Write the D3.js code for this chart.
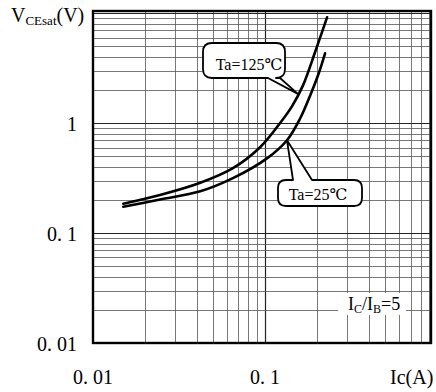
<!DOCTYPE html>
<html>
<head>
<meta charset="utf-8">
<script src="https://cdn.jsdelivr.net/npm/d3@7"></script>
<style>
  html, body { margin: 0; padding: 0; background: #fff; }
  svg { display: block; }
  text { font-family: "Liberation Serif", "DejaVu Serif", serif; fill: #000; }
</style>
</head>
<body>
<div id="chart"></div>
<script>
// Ic (A) vs VCE(sat) (V), IC/IB = 5
var ic125 = [0.015, 0.0245, 0.042, 0.065, 0.0935, 0.122, 0.1435, 0.166, 0.195, 0.229];
var vce125 = [0.185, 0.222, 0.287, 0.39, 0.605, 1.0, 1.43, 2.21, 4.42, 9.2];
var ic25 = [0.015, 0.0245, 0.042, 0.065, 0.103, 0.134, 0.16, 0.183, 0.203, 0.223];
var vce25 = [0.174, 0.202, 0.240, 0.316, 0.481, 0.70, 1.11, 1.80, 2.73, 4.33];

var xTicks = [0.01, 0.1];
var xTickLabels = ["0. 01", "0. 1"];
var yTicks = [0.01, 0.1, 1];
var yTickLabels = ["0. 01", "0. 1", "1"];

// where the callout pointers touch the curves
var tip125 = [0.155, 1.85];
var tip25 = [0.134, 0.70];

var width = 436, height = 392;
var x = d3.scaleLog().domain([0.01, 0.92]).range([93, 431]);
var y = d3.scaleLog().domain([0.01, 10.5]).range([343, 11]);

var svg = d3.select("#chart").append("svg")
    .attr("width", width)
    .attr("height", height);

// grid lines: 1..9 in each decade
var xGrid = [], yGrid = [];
[0.01, 0.1].forEach(function(d) {
    for (var k = 1; k <= 9; k++) xGrid.push(d * k);
});
[0.01, 0.1, 1].forEach(function(d) {
    for (var k = 1; k <= 9; k++) yGrid.push(d * k);
});
yGrid.push(10);

function isDecade(d) {
    return Math.abs(Math.log10(d) - Math.round(Math.log10(d))) < 1e-6;
}

var grid = svg.append("g").attr("class", "grid");
grid.selectAll("line.v")
    .data(xGrid.filter(function(d) { return d > 0.0101 && d < 0.92; }))
    .enter().append("line")
    .attr("class", "v")
    .attr("x1", function(d) { return Math.round(x(d)) + 0.5; })
    .attr("x2", function(d) { return Math.round(x(d)) + 0.5; })
    .attr("y1", y(10.5))
    .attr("y2", y(0.01))
    .attr("stroke", function(d) { return isDecade(d) ? "#222" : "#555"; })
    .attr("stroke-width", function(d) { return isDecade(d) ? 1.2 : 0.8; });

grid.selectAll("line.h")
    .data(yGrid.filter(function(d) { return d > 0.0101 && d < 10.5; }))
    .enter().append("line")
    .attr("class", "h")
    .attr("x1", x(0.01))
    .attr("x2", x(0.92))
    .attr("y1", function(d) { return Math.round(y(d)) + 0.5; })
    .attr("y2", function(d) { return Math.round(y(d)) + 0.5; })
    .attr("stroke", function(d) { return isDecade(d) ? "#222" : "#555"; })
    .attr("stroke-width", function(d) { return isDecade(d) ? 1.2 : 0.8; });

// frame
svg.append("rect")
    .attr("x", x(0.01))
    .attr("y", y(10.5))
    .attr("width", x(0.92) - x(0.01))
    .attr("height", y(0.01) - y(10.5))
    .attr("fill", "none")
    .attr("stroke", "#000")
    .attr("stroke-width", 2.4);

// curves
var line = d3.line()
    .x(function(d) { return x(d[0]); })
    .y(function(d) { return y(d[1]); })
    .curve(d3.curveCatmullRom.alpha(0.5));

var series = [
    d3.zip(ic125, vce125),
    d3.zip(ic25, vce25)
];
svg.selectAll("path.curve")
    .data(series)
    .enter().append("path")
    .attr("class", "curve")
    .attr("d", line)
    .attr("fill", "none")
    .attr("stroke", "#000")
    .attr("stroke-width", 2.6)
    .attr("stroke-linecap", "round");

// speech bubble helper; wedge on bottom or top edge
function bubble(x0, y0, x1, y1, r, side, a, b, tip) {
    var p = "M" + (x0 + r) + "," + y0;
    if (side === "top") p += "H" + a + "L" + tip[0] + "," + tip[1] + "L" + b + "," + y0;
    p += "H" + (x1 - r) + "Q" + x1 + "," + y0 + " " + x1 + "," + (y0 + r);
    p += "V" + (y1 - r) + "Q" + x1 + "," + y1 + " " + (x1 - r) + "," + y1;
    if (side === "bottom") p += "H" + b + "L" + tip[0] + "," + tip[1] + "L" + a + "," + y1;
    p += "H" + (x0 + r) + "Q" + x0 + "," + y1 + " " + x0 + "," + (y1 - r);
    p += "V" + (y0 + r) + "Q" + x0 + "," + y0 + " " + (x0 + r) + "," + y0 + "Z";
    return p;
}

var t1 = [x(tip125[0]), y(tip125[1])];
svg.append("path")
    .attr("d", bubble(203, 43, 285, 78, 9, "bottom", 268, 280, t1))
    .attr("fill", "#fff")
    .attr("stroke", "#000")
    .attr("stroke-width", 1.8)
    .attr("stroke-linejoin", "round");
svg.append("text")
    .attr("x", 249).attr("y", 70)
    .attr("text-anchor", "middle")
    .attr("font-size", 16)
    .text("Ta=125℃");

var t2 = [x(tip25[0]), y(tip25[1])];
svg.append("path")
    .attr("d", bubble(278, 180, 362, 206, 8, "top", 293, 312, t2))
    .attr("fill", "#fff")
    .attr("stroke", "#000")
    .attr("stroke-width", 1.8)
    .attr("stroke-linejoin", "round");
svg.append("text")
    .attr("x", 318).attr("y", 200)
    .attr("text-anchor", "middle")
    .attr("font-size", 16)
    .text("Ta=25℃");

// IC/IB = 5 label on a white patch
svg.append("rect")
    .attr("x", 338).attr("y", 293)
    .attr("width", 68).attr("height", 22)
    .attr("fill", "#fff");
var cond = svg.append("text")
    .attr("x", 348).attr("y", 310)
    .attr("font-size", 18);
cond.append("tspan").text("I");
cond.append("tspan").attr("font-size", 12).attr("dy", 3).text("C");
cond.append("tspan").attr("dy", -3).text("/I");
cond.append("tspan").attr("font-size", 12).attr("dy", 3).text("B");
cond.append("tspan").attr("dy", -3).text("=5");

// tick labels
svg.selectAll("text.xt")
    .data(xTicks)
    .enter().append("text")
    .attr("class", "xt")
    .attr("x", function(d) { return x(d); })
    .attr("y", 384)
    .attr("text-anchor", "middle")
    .attr("font-size", 20)
    .text(function(d, i) { return xTickLabels[i]; });

svg.selectAll("text.yt")
    .data(yTicks)
    .enter().append("text")
    .attr("class", "yt")
    .attr("x", 77)
    .attr("y", function(d) { return y(d) + 8; })
    .attr("text-anchor", "end")
    .attr("font-size", 20)
    .text(function(d, i) { return yTickLabels[i]; });

// axis titles
svg.append("text")
    .attr("x", 390).attr("y", 384)
    .attr("font-size", 20)
    .text("Ic(A)");

var yt = svg.append("text")
    .attr("x", 11).attr("y", 22)
    .attr("font-size", 20);
yt.append("tspan").text("V");
yt.append("tspan").attr("font-size", 13).attr("dy", 3).text("CEsat");
yt.append("tspan").attr("dy", -3).text("(V)");
</script>
</body>
</html>
